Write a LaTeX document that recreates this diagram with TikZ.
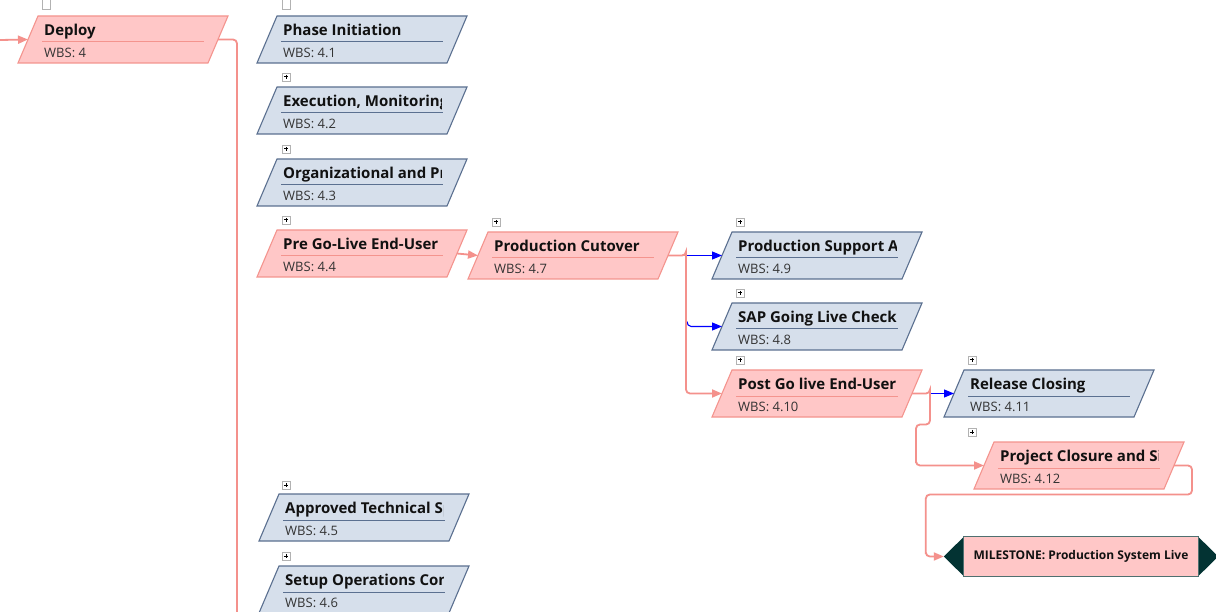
\documentclass[tikz,border=0pt]{standalone}
\usepackage{fontspec}
\setmainfont{Open Sans}
\usetikzlibrary{calc,arrows.meta}
\definecolor{bfill}{HTML}{D6DFEB}
\definecolor{bline}{HTML}{5B7090}
\definecolor{pfill}{HTML}{FFC7C7}
\definecolor{pline}{HTML}{F4948E}
\definecolor{edgec}{HTML}{F4918C}
\definecolor{msdark}{HTML}{033333}
\definecolor{txt}{HTML}{111111}
\definecolor{wtxt}{HTML}{333333}
\tikzset{
  anchorbox/.style={minimum width=210pt,minimum height=47pt,inner sep=0pt,outer sep=0pt},
  bluebox/.style={draw=bline,fill=bfill,line width=1.1pt},
  pinkbox/.style={draw=pline,fill=pfill,line width=1.1pt},
  bluediv/.style={draw=bline,line width=1pt},
  pinkdiv/.style={draw=pline,line width=1pt},
  titletext/.style={font=\fontsize{15}{17}\selectfont\bfseries,text=txt,inner sep=0pt,anchor=base west},
  wbstext/.style={font=\fontsize{13}{15}\selectfont,text=wtxt,inner sep=0pt,anchor=base west},
  link/.style={draw=edgec,line width=1.8pt,rounded corners=4pt},
  linkarrow/.style={link,-{Triangle[length=10pt,width=8pt]}},
  bluelink/.style={draw=blue,line width=1.1pt,-{Triangle[length=10pt,width=8pt]}},
  plusbox/.style={draw=gray!60,fill=white,line width=0.7pt},
}
\newcommand\wbsbox[6]{%
  \node[anchorbox] (#1) at (#2+105,#3+23.5) {};
  \draw[#4box] ($(#1.north west)+(20,0)$) -- (#1.north east) -- ($(#1.south east)+(-20,0)$) -- (#1.south west) -- cycle;
  \coordinate (#1-in) at ($(#1.west)+(10,0)$);
  \coordinate (#1-out) at ($(#1.east)+(-10,0)$);
  \begin{scope}
    \clip (#2+24,#3+1) rectangle (#2+184,#3+25);
    \node[titletext] (#1-title) at (#2+26,#3+19.5) {#5};
  \end{scope}
  \draw[#4div] (#2+24,#3+26) -- (#2+186,#3+26);
  \node[wbstext] (#1-wbs) at (#2+26,#3+41.5) {#6};
}
\newcommand\plusmark[2]{%
  \draw[plusbox] (#1,#2) rectangle (#1+8,#2+8);
  \draw[black,line width=1pt] (#1+1.8,#2+4) -- (#1+6.2,#2+4) (#1+4,#2+1.8) -- (#1+4,#2+6.2);
}
\begin{document}
\begin{tikzpicture}[x=1pt,y=-1pt]
\useasboundingbox (0,0) rectangle (1216,612);
\clip (0,0) rectangle (1216,612);
\fill[white] (0,0) rectangle (1216,612);

% plus marks
\draw[plusbox] (42,-2) rectangle (50,9);
\draw[plusbox] (282,-2) rectangle (290,9);
\plusmark{282}{73}
\plusmark{282}{145}
\plusmark{282}{216}
\plusmark{492}{218}
\plusmark{736}{218}
\plusmark{736}{289}
\plusmark{736}{356}
\plusmark{968}{356}
\plusmark{968}{428}
\plusmark{282}{481}
\plusmark{282}{552}

% boxes
\wbsbox{deploy}{18}{16}{pink}{Deploy}{WBS: 4}
\wbsbox{n41}{257}{16}{blue}{Phase Initiation}{WBS: 4.1}
\wbsbox{n42}{257}{87}{blue}{Execution, Monitoring and Controlling}{WBS: 4.2}
\wbsbox{n43}{257}{159}{blue}{Organizational and Process Change}{WBS: 4.3}
\wbsbox{n44}{257}{230}{pink}{Pre Go-Live End-User Training}{WBS: 4.4}
\wbsbox{n47}{468}{232}{pink}{Production Cutover}{WBS: 4.7}
\wbsbox{n49}{712}{232}{blue}{Production Support Arrangements}{WBS: 4.9}
\wbsbox{n48}{712}{303}{blue}{SAP Going Live Check}{WBS: 4.8}
\wbsbox{n410}{712}{370}{pink}{Post Go live End-User Training}{WBS: 4.10}
\wbsbox{n411}{944}{370}{blue}{Release Closing}{WBS: 4.11}
\wbsbox{n412}{974}{442}{pink}{Project Closure and Sign-off}{WBS: 4.12}
\wbsbox{n45}{259}{494}{blue}{Approved Technical Specifications}{WBS: 4.5}
\wbsbox{n46}{259}{566}{blue}{Setup Operations Control}{WBS: 4.6}

% milestone
\node[minimum width=234pt,minimum height=39pt,inner sep=0pt] (ms) at (1081,556.5) {};
\fill[msdark] (ms.west) ++(-20,0) -- (ms.north west) -- ($(ms.north east)$) -- ($(ms.east)+(20,0)$) -- (ms.south east) -- (ms.south west) -- cycle;
\draw[fill=pfill,draw=msdark!70,line width=1pt] (ms.north west) rectangle (ms.south east);
\node[font=\fontsize{12}{14}\selectfont\bfseries,text=txt] (ms-text) at (ms.center) {MILESTONE: Production System Live};
\coordinate (ms-in) at ($(ms.west)+(-20,0)$);

% connectors
\coordinate (start) at (0,40);
\coordinate (bottom) at (237,612);
\draw[linkarrow] (start) -- (deploy-in);
\draw[link] (deploy-out) -| (bottom);
\draw[linkarrow] (n44-out) -- (n47-in);
\coordinate (j1) at ($(n47-out)+(18,0)$);
\draw[bluelink] (j1) -- (n49-in);
\draw[bluelink] (j1 |- n48-in) ++(1,-5) to[out=-90,in=180] ++(4,5) -- (n48-in);
\draw[link] (n47-out) -- (j1);
\draw[linkarrow] (n47-out) -| (j1) |- (n410-in);
\coordinate (j2) at ($(n410-out)+(18,0)$);
\draw[bluelink] (j2) -- (n411-in);
\draw[linkarrow] (n410-out) -| (j2) -- ++(0,31) -| ($(j2)+(-14,72)$) |- (n412-in);
\coordinate (j3) at ($(n412-out)+(18,0)$);
\draw[linkarrow] (n412-out) -| ($(j3)+(0,29)$) -| ($(ms-in)+(-18,0)$) |- (ms-in);
\end{tikzpicture}
\end{document}
